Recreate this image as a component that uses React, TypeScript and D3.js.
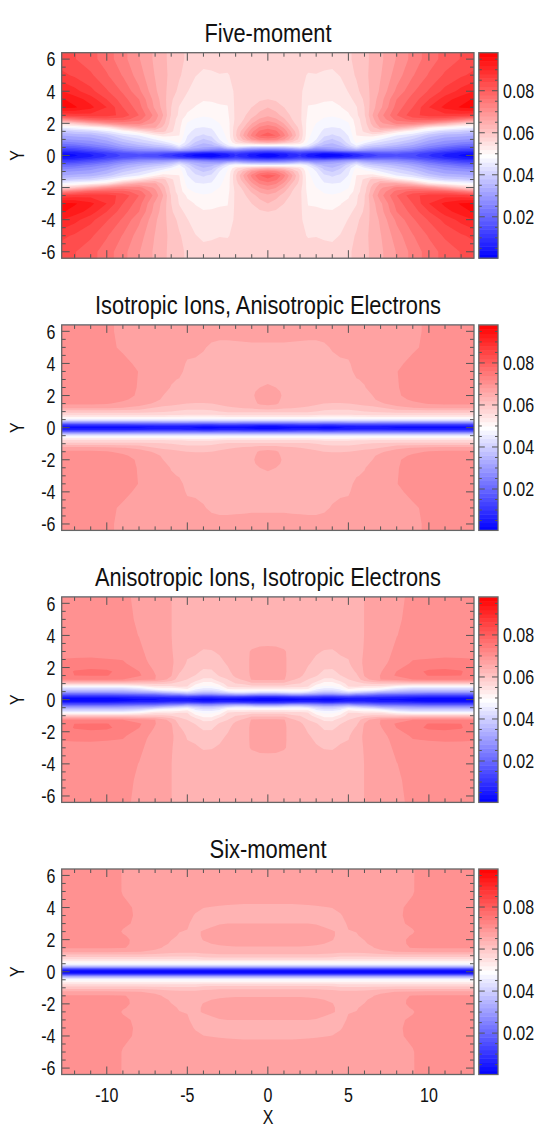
import React from 'react';
import * as d3 from 'd3';

// values are in units of 1e-3, one column per X station, each list running up through yStations
// only the X>=0, Y>=0 quadrant is listed, the plots are mirror symmetric
const xStations = [0, 0.5, 1, 1.5, 2, 2.5, 3, 3.5, 4, 4.5, 5, 5.5, 6, 6.5, 7, 8, 9, 10, 11, 12, 12.8];
const yStations = [0, 0.1, 0.2, 0.3, 0.45, 0.6, 0.8, 1, 1.25, 1.5, 1.75, 2, 2.25, 2.5, 3, 3.5, 4, 5, 6, 6.4];

const fiveMoment = [
  [1, 3, 10, 18, 32, 47, 64, 74, 80, 78, 74, 70.5, 67.5, 64.8, 62.2, 59, 57.5, 57, 57, 57],
  [2, 4, 11, 19, 32, 47, 63, 73, 78.5, 76, 72.5, 69, 66, 63.5, 60.8, 58.5, 57.3, 57, 57, 57],
  [5, 6, 12, 20, 33, 47, 61, 69, 73, 71, 68, 65.3, 62.8, 61, 59, 57.5, 57, 57, 57, 57],
  [8, 9, 14, 22, 35, 48, 58, 63, 66, 64.5, 62, 60, 59, 58.3, 57.5, 57, 57, 57, 57, 57],
  [10, 11, 16, 24, 38, 49, 55, 57.5, 58.5, 58.3, 57.8, 57, 56.5, 56.5, 56.5, 56.5, 56.5, 56.5, 57, 57],
  [5, 7, 14, 22, 36, 45, 48.5, 49.5, 50, 50.4, 50.7, 51, 51.4, 51.8, 52.3, 53, 53.7, 55.5, 57, 57.2],
  [3, 5, 13, 22, 30, 38, 44, 46, 47.2, 48, 48.6, 49.2, 50.2, 51, 52, 53.2, 54, 55.6, 57, 57.3],
  [1, 3, 11, 22, 31, 35, 38, 40.8, 43.4, 45, 46.3, 47.6, 48.8, 49.8, 51.7, 52.8, 53.5, 55.2, 57, 57.3],
  [1, 4, 12, 24, 32, 34, 36.6, 39, 42.2, 43.9, 45.9, 47.3, 48.4, 49.5, 51.6, 52.7, 53.3, 54.9, 57, 57.3],
  [2, 5, 14, 26, 33, 36, 39, 41.4, 43.3, 44.9, 46.2, 47.6, 48.9, 50, 52.3, 53.3, 54, 55.9, 57.3, 57.6],
  [5, 7, 16, 28, 36, 41, 44, 44.9, 46.1, 47.1, 48, 49, 50, 51.9, 53.5, 54.7, 55.9, 57.5, 58.4, 58.4],
  [8, 10, 18, 30, 40, 46, 50, 51.5, 52.5, 53, 53.3, 53.8, 54.1, 55, 55.5, 56.8, 58, 59.4, 59.9, 59.9],
  [10, 12, 20, 28, 36, 41, 47, 50.5, 53, 56.5, 57, 57.5, 57.8, 58.7, 59, 59.5, 60.8, 61.4, 61.3, 61.3],
  [12, 14, 20, 27, 34, 39, 44, 49, 54, 60, 61.5, 63.5, 64.5, 65.5, 64.3, 63.8, 63.2, 63.2, 63, 63],
  [14, 16, 21, 27, 33, 38, 42, 46, 52, 60, 66, 68, 69.7, 70.8, 68, 67.3, 66.2, 65.3, 64.8, 64.8],
  [16, 17, 21, 26, 31, 35, 39, 42, 46, 55, 66, 73, 76.5, 78.5, 76.7, 75.3, 72.8, 70.4, 69, 69],
  [14, 15, 18, 23, 28, 32, 35.5, 39, 43, 50, 62, 73, 80, 84, 81.8, 79.9, 78, 75, 73.2, 73.2],
  [10, 11, 14, 18, 23, 27, 31, 34, 38, 45, 54, 70.5, 80.5, 86.5, 88.3, 85, 82.2, 78.9, 76.9, 76.9],
  [6, 7, 10, 14, 19, 24, 28, 31, 35, 41, 51, 65.5, 79.5, 87, 92.5, 90.1, 86.1, 82.4, 79.7, 79.7],
  [3, 4, 7, 11, 16, 21, 26, 30, 34, 40, 48.5, 60, 76, 86.5, 95.3, 93.3, 89.5, 84.5, 82, 82],
  [2, 3, 6, 10, 15, 20, 25, 29, 33, 38, 47, 57, 72, 85.5, 96, 95.3, 91.6, 86, 83, 83],
];

const isoIons = [
  [1, 4, 13, 26, 42, 50.5, 56.4, 59.7, 64.3, 66.4, 66.8, 67.2, 67, 66.4, 64.3, 63.9, 63.9, 65.1, 66.4, 66.8],
  [1, 4, 13, 26, 42, 50.5, 56.4, 59.7, 64.1, 66, 66.2, 66.4, 66.2, 65.5, 64.1, 63.9, 63.9, 65.1, 66.4, 66.8],
  [2, 5, 14, 26, 42, 50.5, 56.4, 59.7, 63.1, 64.3, 64.9, 65.1, 64.9, 64.6, 63.9, 63.9, 63.9, 65.1, 66.4, 66.8],
  [3, 5, 14, 26, 42, 50.5, 56.4, 59.7, 62.7, 63.9, 64.1, 64.3, 64.1, 63.9, 63.9, 63.9, 63.9, 65, 66.4, 66.8],
  [3, 6, 15, 27, 42, 50.5, 56.4, 59.7, 62.2, 63.7, 63.9, 63.9, 63.9, 63.9, 63.9, 63.9, 64.1, 64.9, 66.4, 66.8],
  [3, 6, 15, 27, 42, 50.5, 56.4, 59.7, 61.8, 63.3, 63.9, 63.9, 63.9, 63.9, 63.9, 64.1, 64.3, 64.8, 66.4, 66.8],
  [3, 6, 15, 27, 42, 50, 56, 58.9, 61, 62.9, 63.9, 63.9, 63.9, 63.9, 63.9, 64.2, 64.4, 64.8, 66.4, 66.8],
  [2, 5, 14, 26, 42, 50, 55.6, 58.4, 60.2, 62.2, 63.7, 63.9, 63.9, 63.9, 63.9, 64.2, 64.6, 65.1, 66.4, 66.8],
  [2, 5, 14, 26, 42, 50, 55.6, 57.9, 60.2, 62, 63.5, 63.9, 63.9, 63.9, 64.1, 64.4, 64.9, 65.7, 66.4, 66.8],
  [3, 6, 15, 26, 42, 50, 55.6, 57.9, 60.2, 62, 63.5, 63.9, 63.9, 63.9, 64.2, 64.7, 65.2, 66, 66.6, 66.8],
  [4, 6, 15, 27, 42, 50, 55.6, 57.9, 60.2, 62.2, 63.5, 63.9, 64.1, 64.3, 64.6, 64.9, 65.2, 66.4, 66.8, 67],
  [4, 7, 15, 27, 42, 50.5, 56, 58.4, 60.6, 62.7, 63.9, 64.3, 64.6, 64.9, 65.4, 66, 66.4, 67.1, 67.2, 67.2],
  [4, 7, 15, 27, 42, 50.5, 56, 58.9, 61, 63.5, 64.7, 64.9, 65.1, 65.4, 65.7, 66.4, 66.8, 67.2, 67.4, 67.4],
  [4, 7, 15, 27, 42, 50.5, 56.4, 59.3, 61.4, 63.9, 65.1, 65.5, 65.8, 66.1, 66.4, 66.9, 67.2, 67.5, 67.6, 67.6],
  [4, 7, 15, 26, 42, 50.5, 56.4, 59.7, 62.2, 65.1, 66.2, 66.4, 66.6, 66.7, 67.1, 67.2, 67.5, 67.7, 67.8, 67.8],
  [3, 6, 15, 26, 42, 50.5, 56.4, 60.2, 64.7, 66.8, 67.7, 68.4, 68.5, 68.6, 68.65, 68.7, 68.2, 67.7, 67.5, 67.4],
  [3, 6, 14, 26, 42, 50.5, 56.4, 60.2, 65.6, 68.1, 69.3, 69.7, 69.7, 69.7, 69.7, 69.7, 69.5, 68.3, 68.1, 68.1],
  [3, 6, 14, 26, 42, 50.5, 56.4, 60.2, 66.4, 69, 69.7, 69.7, 69.7, 69.7, 69.7, 69.7, 69.7, 69.5, 69.3, 69.3],
  [3, 6, 14, 26, 42, 50.5, 56.4, 60.2, 66.8, 69.3, 69.7, 69.7, 69.7, 69.7, 69.7, 69.7, 69.7, 69.7, 69.7, 69.7],
  [3, 6, 14, 26, 42, 50.5, 56.4, 60.2, 66.8, 69.3, 69.9, 70.1, 70.1, 70.1, 70.1, 70.1, 70.1, 70.1, 70.1, 70.1],
  [3, 6, 14, 26, 42, 50.5, 56.4, 60.2, 66.8, 69.3, 69.9, 70.1, 70.1, 70.1, 70.1, 70.1, 70.1, 70.1, 70.1, 70.1],
];

const anisoIons = [
  [1, 4, 12, 26, 42, 51, 57.2, 61.4, 66, 66.8, 67.2, 67.2, 67.2, 67.2, 66.4, 65.1, 64.6, 64.3, 64.3, 64.3],
  [1, 4, 12, 26, 42, 51, 57.2, 61.4, 66, 66.8, 67.2, 67.2, 67.2, 67, 66.2, 65.1, 64.6, 64.3, 64.3, 64.3],
  [2, 5, 13, 27, 43, 51, 57.2, 61.4, 65.8, 65.9, 65.9, 65.9, 65.9, 65.9, 65.8, 64.7, 64.5, 64.3, 64.3, 64.3],
  [2, 5, 14, 30, 44, 51, 56.4, 59.7, 62.7, 64.3, 64.6, 64.6, 64.6, 64.6, 64.6, 64.5, 64.4, 64.3, 64.3, 64.3],
  [3, 6, 15, 30, 44, 51, 56.4, 58.9, 61.4, 63.1, 63.9, 64.3, 64.3, 64.3, 64.3, 64.3, 64.3, 64.3, 64.3, 64.3],
  [3, 6, 15, 28, 42, 51, 55.6, 57.3, 58.9, 60.4, 61.3, 62, 62.6, 63.1, 63.9, 64.2, 64.3, 64.3, 64.3, 64.3],
  [3, 6, 14, 27, 39, 45, 50, 54, 57.6, 59.3, 60, 60.6, 61.2, 61.7, 62.7, 63.5, 63.9, 63.9, 63.9, 63.9],
  [2, 5, 12, 25, 37, 43, 48.5, 51, 54.9, 57.3, 58.6, 59.3, 60.3, 61, 62, 63.3, 63.9, 63.9, 63.9, 63.9],
  [2, 5, 12, 25, 37, 43, 48.5, 51, 54.9, 57.2, 58.4, 59.3, 60.2, 61, 61.9, 63.1, 63.9, 63.9, 63.9, 63.9],
  [3, 6, 14, 27, 39, 45, 50, 53.6, 57.2, 58.9, 59.7, 60.6, 61.2, 61.7, 62.7, 63.5, 63.9, 63.9, 63.9, 63.9],
  [4, 7, 15, 28, 42, 51, 55.6, 57.2, 58.9, 59.7, 60.4, 61.2, 61.8, 62.2, 63.2, 63.9, 64.3, 64.3, 64.3, 64.3],
  [5, 7, 14, 25, 40, 49, 55.6, 57.9, 60.2, 61.6, 62.7, 63.5, 64.2, 64.4, 64.5, 64.6, 64.6, 64.6, 64.6, 64.6],
  [5, 7, 14, 24, 38, 48, 54.5, 58.9, 64.3, 65.7, 66, 66, 66, 65.9, 65.7, 65.6, 65.55, 65.55, 65.55, 65.55],
  [4, 6, 13, 22, 36, 47, 54.5, 59.7, 66.4, 67.4, 67.2, 67, 66.9, 66.7, 66.6, 66.5, 66.4, 66.4, 66.4, 66.4],
  [3, 5, 12, 20, 33, 45, 54.5, 59.7, 68.8, 68.9, 68.5, 68.1, 67.9, 67.7, 67.5, 67.2, 67.2, 67.2, 67.2, 67.2],
  [3, 5, 11, 19, 32, 40, 50, 59.7, 69.7, 72.6, 72.1, 70.9, 70, 69.7, 69.3, 69, 68.7, 68.5, 68.3, 68.2],
  [2, 4, 10, 18, 30, 38, 47, 59.7, 72, 74.3, 74.5, 73.9, 72.6, 71.9, 70.4, 70, 69.7, 69.3, 69.3, 69.3],
  [1, 3, 9, 17, 29, 38, 47, 59.7, 72.2, 75.4, 75.7, 74.7, 73.4, 72.2, 70.5, 70.1, 69.9, 69.7, 69.7, 69.7],
  [1, 3, 9, 17, 29, 38, 47, 59.7, 72.2, 75.5, 75.9, 74.9, 73.6, 72.5, 70.5, 70.1, 69.9, 69.7, 69.7, 69.7],
  [1, 3, 9, 17, 29, 38, 47, 59.7, 72.2, 75.3, 75.5, 74.7, 73.4, 72.4, 70.5, 70.1, 69.9, 69.7, 69.7, 69.7],
  [1, 3, 9, 17, 29, 38, 47, 59.7, 72, 73.4, 73.9, 73.7, 73, 72.2, 70.5, 70.1, 69.9, 69.7, 69.7, 69.7],
];

const sixMoment = [
  [1, 5, 18, 33, 46, 51, 57.2, 61.4, 63.9, 65.3, 66, 66.4, 66.4, 66.4, 65.5, 63.9, 65, 67.2, 67.7, 67.7],
  [1, 5, 18, 33, 46, 51, 57.2, 61.4, 63.9, 65.3, 66, 66.4, 66.4, 66.4, 65.5, 63.9, 65, 67.2, 67.7, 67.7],
  [1, 5, 18, 33, 46, 51, 57.2, 61.4, 63.9, 65.3, 66, 66.4, 66.4, 66.4, 65.5, 63.9, 65, 67.2, 67.7, 67.7],
  [1, 5, 18, 33, 46, 51, 57.2, 61.4, 63.9, 65.3, 66, 66.4, 66.4, 66.4, 65.5, 63.9, 65, 67.2, 67.7, 67.7],
  [1, 5, 18, 33, 46, 51, 57.2, 61.4, 63.9, 65.3, 66, 66.4, 66.4, 66.4, 65.5, 64.1, 65.1, 67.2, 67.7, 67.7],
  [1, 5, 18, 33, 46, 51, 57.2, 61.4, 63.9, 65.2, 65.9, 66.3, 66.4, 66.4, 65.5, 64.2, 65.2, 67.2, 67.7, 67.7],
  [1, 5, 18, 33, 46, 51, 57.2, 61.4, 63.9, 65.1, 65.8, 66.2, 66.3, 66.2, 65.4, 64.5, 65.3, 67.2, 67.7, 67.7],
  [1, 5, 18, 33, 46, 51, 57.2, 61, 63.7, 64.8, 65.5, 65.9, 66.1, 66, 65.1, 64.6, 65.4, 67.2, 67.7, 67.7],
  [1, 5, 18, 33, 46, 51, 57.2, 60.6, 63.5, 64.6, 65.1, 65.6, 65.8, 65.7, 64.6, 64.7, 65.55, 67.2, 67.7, 67.7],
  [1, 5, 18, 33, 46, 51, 56.4, 59.7, 63.1, 64.2, 64.6, 64.7, 64.9, 65.1, 64.7, 65.3, 66, 67.2, 67.7, 67.7],
  [1, 5, 18, 33, 46, 51, 56.4, 59.7, 63.1, 64.2, 64.6, 64.7, 64.9, 65.4, 65.8, 66.2, 66.6, 67.4, 67.7, 67.8],
  [1, 5, 18, 33, 46, 51, 56.4, 59.7, 63.1, 64.3, 64.7, 65, 65.3, 65.55, 66.1, 66.8, 67.2, 67.5, 67.7, 67.8],
  [1, 5, 18, 33, 46, 51, 56.4, 59.7, 63.5, 64.7, 65.2, 65.55, 66, 66.5, 67, 67.4, 67.6, 67.7, 67.8, 67.8],
  [1, 5, 18, 33, 46, 51, 56.4, 60.2, 63.9, 65.3, 66, 66.5, 67, 67.2, 67.5, 67.7, 67.8, 67.9, 67.9, 67.9],
  [1, 5, 18, 33, 46, 51, 56.4, 60.2, 64.7, 66.4, 67.2, 67.7, 67.9, 68, 68, 68, 68, 68, 68, 68],
  [1, 5, 18, 33, 46, 51, 56.4, 60.6, 65.6, 67.7, 68.1, 68.3, 68.4, 68.4, 68.5, 68.5, 68.5, 68.3, 68.3, 68.3],
  [1, 5, 18, 33, 46, 51, 56.4, 60.6, 66, 69, 69.2, 69.1, 68.85, 68.65, 69, 69.2, 69.1, 68.65, 68.65, 68.65],
  [1, 5, 18, 33, 46, 51, 56.4, 60.6, 66.4, 69.1, 69.7, 69.7, 69.7, 69.7, 69.9, 70.1, 70.1, 69.9, 69.8, 69.8],
  [1, 5, 18, 33, 46, 51, 56.4, 60.6, 66.4, 69.1, 69.7, 69.7, 69.7, 69.7, 69.9, 70.1, 70.1, 70.1, 70.1, 70.1],
  [1, 5, 18, 33, 46, 51, 56.4, 60.6, 66.4, 69.1, 69.7, 69.7, 69.7, 69.7, 69.9, 70.1, 70.1, 70.1, 70.1, 70.1],
  [1, 5, 18, 33, 46, 51, 56.4, 60.6, 66.4, 69.1, 69.7, 69.7, 69.7, 69.7, 69.9, 70.1, 70.1, 70.1, 70.1, 70.1],
];

const titles = ['Five-moment', 'Isotropic Ions, Anisotropic Electrons', 'Anisotropic Ions, Isotropic Electrons', 'Six-moment'];
const fields = [fiveMoment, isoIons, anisoIons, sixMoment];

const xTicks = d3.range(-12, 13);
const xLabels = [-10, -5, 0, 5, 10];
const yTicks = d3.range(-6, 6.5, 0.5);
const yLabels = [-6, -4, -2, 0, 2, 4, 6];
const barTicks = d3.range(5, 96, 5);
const barLabels = [20, 40, 60, 80];

const vMin = 0.3;
const vMax = 98.1;
const levelCount = 30;
const levelStep = (vMax - vMin) / levelCount;
const levels = d3.range(levelCount).map(k => vMin + k * levelStep);

const color = d3.scaleLinear<string>()
  .domain([vMin, (vMin + vMax) / 2, vMax])
  .range(['#0000ff', '#ffffff', '#ff0000']);

const panelTops = [52.7, 324.9, 596.9, 869];
const titleWidths = [127, 346, 346, 117];
const titleBase = [41.5, 314, 586, 858];
const panelH = 205.5;
const left = 61.7;
const right = 474;
const barLeft = 478.8;
const barRight = 498;
const font = '"Liberation Sans", Arial, sans-serif';

const xFull = [...xStations.slice(1).reverse().map(d => -d), ...xStations];
const yFull = [...yStations.slice(1).reverse().map(d => -d), ...yStations];

// contour coordinates are cell based: node i sits at i + 0.5
const nodeAt = (nodes: number[], c: number) => {
  const p = c - 0.5;
  if (p <= 0) return nodes[0];
  if (p >= nodes.length - 1) return nodes[nodes.length - 1];
  const i = Math.floor(p);
  return nodes[i] + (p - i) * (nodes[i + 1] - nodes[i]);
};

const flatten = (field: number[][]) => {
  const values: number[] = [];
  yFull.forEach(y => {
    const j = yStations.indexOf(Math.abs(y));
    xFull.forEach(x => values.push(field[xStations.indexOf(Math.abs(x))][j]));
  });
  return values;
};

const Label = ({ x, y, anchor = 'middle', rotate = 0, children }: any) => (
  <text
    transform={`translate(${x},${y}) rotate(${rotate}) scale(0.78,1)`}
    textAnchor={anchor}
    fontFamily={font}
    fontSize={20.5}
    fill="#111"
  >
    {children}
  </text>
);

const Panel = ({ index }: { index: number }) => {
  const top = panelTops[index];
  const x = d3.scaleLinear().domain([-12.8, 12.8]).range([left, right]);
  const y = d3.scaleLinear().domain([-6.4, 6.4]).range([top + panelH, top]);
  const bar = d3.scaleLinear().domain([vMin, vMax]).range([top + panelH, top]);

  const contours = d3.contours()
    .size([xFull.length, yFull.length])
    .thresholds(levels.slice(1))(flatten(fields[index]));

  const path = d3.geoPath(d3.geoTransform({
    point(a, b) {
      this.stream.point(x(nodeAt(xFull, a)), y(nodeAt(yFull, b)));
    },
  }));

  const barBands = d3.range(0, 98, 2);
  const tickColor = '#555';

  return (
    <g>
      <text x={268} y={titleBase[index]} textAnchor="middle" fontFamily={font} fontSize={26} fill="#111"
        textLength={titleWidths[index]} lengthAdjust="spacingAndGlyphs">
        {titles[index]}
      </text>

      <rect x={left} y={top} width={right - left} height={panelH} fill={color(levels[0] + levelStep / 2)} />
      {contours.map(c => (
        <path key={c.value} d={path(c as any) || ''} fill={color(c.value + levelStep / 2)} />
      ))}

      {xTicks.map(t => {
        const len = t % 5 === 0 ? 8 : 4;
        return (
          <g key={t} stroke={tickColor} strokeWidth={1}>
            <line x1={x(t)} x2={x(t)} y1={top} y2={top + len} />
            <line x1={x(t)} x2={x(t)} y1={top + panelH} y2={top + panelH - len} />
          </g>
        );
      })}
      {yTicks.map(t => {
        const len = t % 2 === 0 ? 8 : 4;
        return (
          <g key={t} stroke={tickColor} strokeWidth={1}>
            <line x1={left} x2={left + len} y1={y(t)} y2={y(t)} />
            <line x1={right} x2={right - len} y1={y(t)} y2={y(t)} />
          </g>
        );
      })}
      <rect x={left} y={top} width={right - left} height={panelH} fill="none" stroke="#666" strokeWidth={1.3} />

      {yLabels.map(t => (
        <Label key={t} x={55.5} y={y(t) + 7.3} anchor="end">{t}</Label>
      ))}
      <Label x={24} y={top + panelH / 2} rotate={-90}>Y</Label>

      {barBands.map(v => (
        <rect key={v} x={barLeft} y={bar(Math.min(v + 2, vMax))} width={barRight - barLeft}
          height={bar(Math.max(v, vMin)) - bar(Math.min(v + 2, vMax)) + 0.5} fill={color(Math.min(v + 1, vMax))} />
      ))}
      {barTicks.map(t => {
        const len = t % 20 === 0 ? 6 : 3;
        return (
          <g key={t} stroke={tickColor} strokeWidth={1}>
            <line x1={barLeft} x2={barLeft + len} y1={bar(t)} y2={bar(t)} />
            <line x1={barRight} x2={barRight - len} y1={bar(t)} y2={bar(t)} />
          </g>
        );
      })}
      <rect x={barLeft} y={top} width={barRight - barLeft} height={panelH} fill="none" stroke="#666" strokeWidth={1.3} />
      {barLabels.map(t => (
        <Label key={t} x={503} y={bar(t) + 7.3} anchor="start">{(t / 1000).toFixed(2)}</Label>
      ))}

      {index === 3 && xLabels.map(t => (
        <Label key={t} x={x(t)} y={1101.5}>{t}</Label>
      ))}
      {index === 3 && <Label x={268} y={1124}>X</Label>}
    </g>
  );
};

export default function App() {
  return (
    <svg width={540} height={1131} style={{ position: 'absolute', left: 0, top: 0, display: 'block' }}>
      <rect width={540} height={1131} fill="#fff" />
      {titles.map((_, i) => <Panel key={i} index={i} />)}
    </svg>
  );
}
